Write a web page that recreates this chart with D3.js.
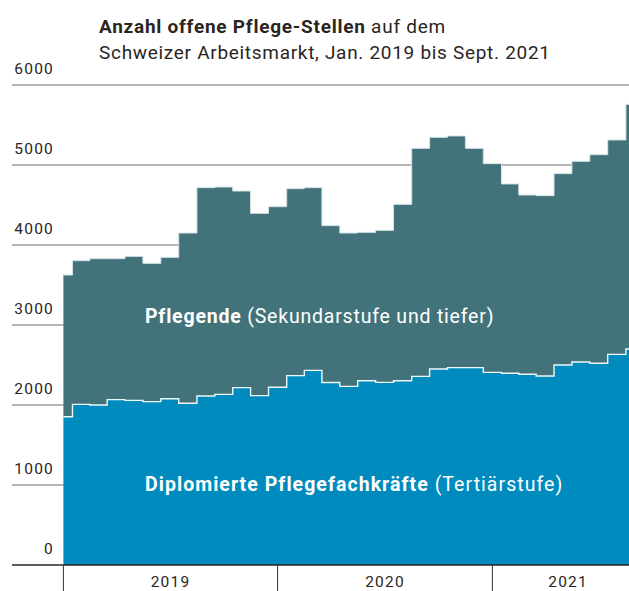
<!DOCTYPE html>
<html>
<head>
<meta charset="utf-8">
<script src="https://cdn.jsdelivr.net/npm/d3@7"></script>
<style>
  html, body { margin: 0; padding: 0; background: #fff; overflow: hidden; }
  svg { display: block; font-family: Roboto, "Noto Sans", sans-serif; }
</style>
</head>
<body>
<script>
// ---- data ----
const months = d3.utcMonths(new Date(Date.UTC(2019, 0, 1)), new Date(Date.UTC(2021, 9, 1)));
const diplomierte = [1854, 2008, 2000, 2067, 2058, 2042, 2079, 2021, 2113, 2133, 2217, 2117,
                     2221, 2367, 2433, 2281, 2233, 2304, 2283, 2304, 2358, 2450, 2467, 2467,
                     2408, 2396, 2385, 2363, 2500, 2538, 2521, 2633, 2700];
const total = [3625, 3804, 3829, 3829, 3858, 3771, 3846, 4150, 4717, 4725, 4675, 4396,
               4479, 4704, 4717, 4242, 4150, 4158, 4183, 4508, 5208, 5346, 5363, 5208,
               5017, 4763, 4625, 4617, 4892, 5046, 5129, 5313, 5758];
const pflegende = total.map((t, i) => t - diplomierte[i]);
const yTicks = [0, 1000, 2000, 3000, 4000, 5000, 6000];
const yearLabels = ["2019", "2020", "2021"];
const titleBold = "Anzahl offene Pflege-Stellen";
const titleRest = " auf dem";
const subtitle = "Schweizer Arbeitsmarkt, Jan. 2019 bis Sept. 2021";

const W = 629, H = 591;
const svg = d3.select("body").append("svg").attr("width", W).attr("height", H);

const x = d3.scaleUtc()
  .domain([months[0], months[months.length - 1]])
  .range([63.4, 635]);
const y = d3.scaleLinear().domain([0, 6000]).range([565, 85]);

// gridlines + labels
const grid = svg.append("g");
yTicks.forEach(t => {
  if (t > 0) {
    grid.append("line").attr("x1", 12).attr("x2", W)
      .attr("y1", y(t)).attr("y2", y(t))
      .attr("stroke", "#756c67").attr("stroke-width", 1.2);
  }
  grid.append("text").attr("x", 54).attr("y", y(t) - 11)
    .attr("text-anchor", "end").attr("font-size", 15.5).attr("letter-spacing", 1.2)
    .attr("fill", "#2b2522")
    .text(t);
});

// stacked data
const rows = months.map((m, i) => ({ date: m, d: diplomierte[i], p: pflegende[i] }));
const stack = d3.stack().keys(["d", "p"])(rows);

const area = d3.area()
  .x(d => x(d.data.date))
  .y0(d => y(d[0]))
  .y1(d => y(d[1]))
  .curve(d3.curveStep);
const line = d3.line()
  .x(d => x(d.data.date))
  .y(d => y(d[1]))
  .curve(d3.curveStep);

const colors = ["#008bbf", "#43737a"];
svg.append("g").selectAll("path").data(stack).join("path")
  .attr("d", area).attr("fill", (d, i) => colors[i]);

// edges
svg.append("path").datum(stack[1]).attr("d", line)
  .attr("fill", "none").attr("stroke", "#d3e3e6").attr("stroke-width", 1);
svg.append("path").datum(stack[0]).attr("d", line)
  .attr("fill", "none").attr("stroke", "#eef7fa").attr("stroke-width", 1.4);

// x axis
svg.append("line").attr("x1", 12).attr("x2", W).attr("y1", 565).attr("y2", 565)
  .attr("stroke", "#2b2522").attr("stroke-width", 1.5);
const years = yearLabels.map(s => new Date(Date.UTC(+s, 0, 1)));
const endDate = d3.utcDay.offset(months[months.length - 1], 15);
years.forEach((yd, i) => {
  svg.append("line").attr("x1", x(yd)).attr("x2", x(yd)).attr("y1", 565).attr("y2", H)
    .attr("stroke", "#3a3330").attr("stroke-width", 1);
  const next = i < years.length - 1 ? years[i + 1] : endDate;
  svg.append("text").attr("x", (x(yd) + x(next)) / 2).attr("y", 587)
    .attr("text-anchor", "middle").attr("font-size", 15.5).attr("letter-spacing", 1.2)
    .attr("fill", "#2b2522")
    .text(yearLabels[i]);
});

// title
const t1 = svg.append("text").attr("x", 99).attr("y", 33).attr("font-size", 19)
  .attr("letter-spacing", 0.75).attr("fill", "#2b2522");
t1.append("tspan").attr("font-weight", "bold").text(titleBold);
t1.append("tspan").text(titleRest);
svg.append("text").attr("x", 99).attr("y", 59).attr("font-size", 19)
  .attr("letter-spacing", 0.7).attr("fill", "#2b2522").text(subtitle);

// series labels
const l1 = svg.append("text").attr("x", 145).attr("y", 323).attr("font-size", 19.5)
  .attr("letter-spacing", 0.8).attr("fill", "#fff");
l1.append("tspan").attr("font-weight", "bold").text("Pflegende");
l1.append("tspan").text(" (Sekundarstufe und tiefer)");
const l2 = svg.append("text").attr("x", 145).attr("y", 491).attr("font-size", 19.5)
  .attr("letter-spacing", 1.05).attr("fill", "#fff");
l2.append("tspan").attr("font-weight", "bold").text("Diplomierte Pflegefachkräfte");
l2.append("tspan").text(" (Tertiärstufe)");
</script>
</body>
</html>
